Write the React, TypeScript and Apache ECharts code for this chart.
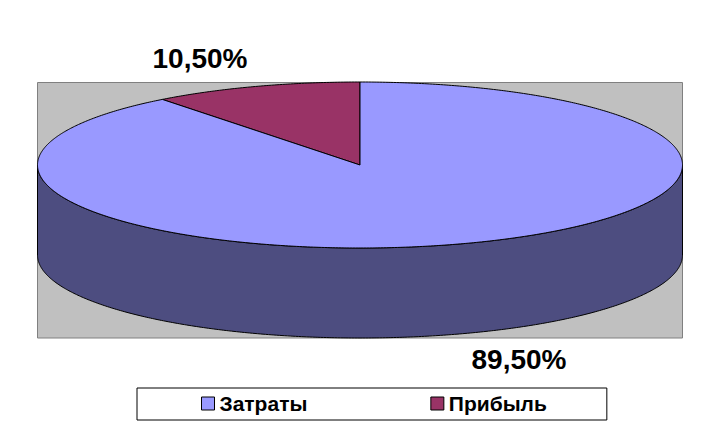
import React, { useEffect, useRef } from "react";
import * as echarts from "echarts";

const categories = ["Затраты", "Прибыль"];
const shares = [89.5, 10.5];
const topColors = ["#9999FF", "#993366"];
const sideColors = ["#4D4D80", "#4D1A33"];
const labelCenters = [[519, 359], [200, 58]];

const CX = 360, CY = 165, RX = 322.5, RY = 83, DEPTH = 90;
const total = shares.reduce((a, b) => a + b, 0);

const pt = (deg: number, dy = 0) => {
  const a = (deg * Math.PI) / 180;
  return [CX + RX * Math.sin(a), CY + dy - RY * Math.cos(a)];
};

const arc = (from: number, to: number, dy = 0) => {
  const n = Math.max(2, Math.ceil(Math.abs(to - from) * 2));
  const out: number[][] = [];
  for (let i = 0; i <= n; i++) out.push(pt(from + ((to - from) * i) / n, dy));
  return out;
};

const labelText = (v: number) => v.toFixed(2).replace(".", ",") + "%";

const makeRender = (idx: number) => (_p: any, api: any) => {
  const before = shares.slice(0, idx).reduce((a, b) => a + b, 0);
  const start = (before / total) * 360;
  const end = start + (api.value(0) / total) * 360;
  const children: any[] = [];
  const sFrom = Math.max(start, 90), sTo = Math.min(end, 270);
  if (sTo > sFrom) {
    children.push({
      type: "polygon",
      shape: { points: [...arc(sFrom, sTo), ...arc(sTo, sFrom, DEPTH)] },
      style: { fill: sideColors[idx], stroke: "#000", lineWidth: 1 },
    });
  }
  children.push({
    type: "polygon",
    shape: { points: [[CX, CY], ...arc(start, end)] },
    style: { fill: topColors[idx], stroke: "#000", lineWidth: 1 },
  });
  children.push({
    type: "text",
    x: labelCenters[idx][0],
    y: labelCenters[idx][1],
    style: {
      text: labelText(api.value(0)),
      fill: "#000",
      font: "bold 28px 'Liberation Sans', Arial, sans-serif",
      align: "center",
      verticalAlign: "middle",
    },
  });
  return { type: "group", children };
};

export default function App() {
  const ref = useRef<HTMLDivElement>(null);
  useEffect(() => {
    const chart = echarts.init(ref.current!, undefined, { renderer: "svg" });
    chart.setOption({
      animation: false,
      backgroundColor: "#fff",
      graphic: [
        {
          type: "rect",
          z: -1,
          silent: true,
          shape: { x: 37.5, y: 82.5, width: 645, height: 255.5 },
          style: { fill: "#C0C0C0", stroke: "#808080", lineWidth: 1 },
        },
      ],
      legend: {
        left: 137,
        top: 388,
        orient: "horizontal",
        backgroundColor: "#fff",
        borderColor: "#000",
        borderWidth: 1,
        borderRadius: 0,
        padding: [5, 60, 6, 64],
        itemWidth: 13,
        itemHeight: 13,
        itemGap: 123,
        icon: "rect",
        itemStyle: { borderColor: "#000", borderWidth: 1 },
        selectedMode: false,
        textStyle: {
          color: "#000",
          fontFamily: "'Liberation Sans', Arial, sans-serif",
          fontWeight: "bold",
          fontSize: 21,
        },
        data: categories,
      },
      series: categories.map((name, i) => ({
        type: "custom",
        name,
        coordinateSystem: "none",
        silent: true,
        clip: false,
        z: 3 - i,
        itemStyle: { color: topColors[i] },
        renderItem: makeRender(i),
        data: [{ name, value: [shares[i]] }],
      })),
    });
    return () => chart.dispose();
  }, []);
  return <div ref={ref} style={{ position: "fixed", left: 0, top: 0, width: 713, height: 431 }} />;
}
